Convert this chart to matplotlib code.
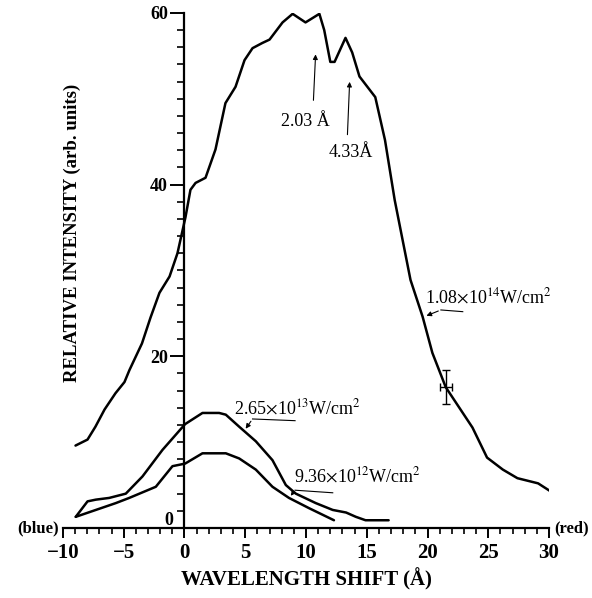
"""Relative intensity vs wavelength shift for three laser intensities."""

import numpy as np
import matplotlib
matplotlib.use("Agg")
import matplotlib.pyplot as plt
from matplotlib.ticker import MultipleLocator, FixedLocator

plt.rcParams["font.family"] = ["Liberation Serif", "DejaVu Serif"]
plt.rcParams["mathtext.fontset"] = "stix"

# 1.08e14 W/cm2 profile
x_high = [-8.97, -7.98, -7.33, -6.58, -5.68, -4.94, -4.53, -3.5, -2.8, -2.06, -1.23,
          -0.58, 0.08, 0.49, 0.91, 1.73, 2.55, 3.37, 4.2, 4.94, 5.6, 6.4, 7.0, 8.07,
          8.9, 9.96, 11.1, 11.5, 12.0, 12.35, 13.25, 13.8, 14.4, 15.7, 16.5, 17.3,
          18.6, 19.6, 20.4, 21.5, 23.7, 24.9, 26.2, 27.4, 29.1, 30.2]
y_high = [9.6, 10.3, 11.8, 13.8, 15.7, 17.0, 18.4, 21.5, 24.5, 27.4, 29.3,
          32.0, 36.2, 39.4, 40.2, 40.8, 44.1, 49.5, 51.4, 54.5, 55.9, 56.5, 56.9, 58.9,
          59.9, 58.9, 59.9, 58.0, 54.3, 54.3, 57.1, 55.4, 52.6, 50.2, 45.2, 38.2,
          28.9, 24.6, 20.4, 16.4, 11.7, 8.2, 6.8, 5.8, 5.2, 4.2]

# 2.65e13 W/cm2 profile
x_mid = [-8.95, -7.98, -7.3, -6.2, -4.83, -3.46, -1.81, 0.05, 1.48, 2.85, 3.4, 4.5,
         5.87, 7.24, 8.34, 9.16, 10.8, 12.2, 13.3, 14.1, 14.9, 16.3, 16.8]
y_mid = [1.3, 3.1, 3.3, 3.5, 4.0, 6.0, 9.1, 12.1, 13.4, 13.4, 13.2, 11.8,
         10.1, 7.9, 5.0, 4.0, 2.9, 2.1, 1.8, 1.3, 0.9, 0.9, 0.9]

# 9.36e12 W/cm2 profile
x_low = [-8.95, -7.3, -5.65, -4.55, -2.36, -0.99, 0.05, 1.48, 3.4, 4.5, 5.87, 7.24,
         8.6, 10.26, 12.3]
y_low = [1.3, 2.1, 2.9, 3.5, 4.8, 7.2, 7.5, 8.7, 8.7, 8.1, 6.8, 4.8,
         3.5, 2.3, 0.9]

err_x, err_y = 21.5, 16.4
err_dx, err_dy = 0.5, 2.0

x_ticks = [-10, -5, 0, 5, 10, 15, 20, 25, 30]
y_ticks = [20, 40, 60]

fig = plt.figure(figsize=(5.92, 5.98), dpi=100)
ax = fig.add_axes([0.1064, 0.1171, 0.821, 0.8612])

lw = 1.8
for xs, ys in [(x_high, y_high), (x_mid, y_mid), (x_low, y_low)]:
    ax.plot(xs, ys, color="black", lw=lw, solid_joinstyle="round",
            solid_capstyle="round")
ax.errorbar(err_x, err_y, xerr=err_dx, yerr=err_dy, color="black",
            lw=1.0, capsize=3, capthick=1.0)

ax.set_xlim(-10, 30)
ax.set_ylim(0, 60)

# axes: y axis sits at x = 0
for s in ["top", "right"]:
    ax.spines[s].set_visible(False)
ax.spines["left"].set_position(("data", 0))
ax.spines["left"].set_linewidth(1.6)
ax.spines["bottom"].set_linewidth(1.6)

ax.xaxis.set_major_locator(FixedLocator(x_ticks))
ax.xaxis.set_minor_locator(MultipleLocator(1))
ax.yaxis.set_major_locator(FixedLocator(y_ticks))
ax.yaxis.set_minor_locator(MultipleLocator(2))
ax.tick_params(axis="x", which="major", direction="out", length=7.5, width=1.4,
               labelsize=15, pad=3)
ax.tick_params(axis="x", which="minor", direction="out", length=4, width=1.2)
ax.tick_params(axis="y", which="major", direction="out", length=10, width=1.4,
               labelsize=13, pad=2)
ax.tick_params(axis="y", which="minor", direction="out", length=5, width=1.2)
for lab in ax.get_xticklabels() + ax.get_yticklabels():
    lab.set_fontweight("bold")
ax.text(-0.9, 0.9, "0", ha="right", va="center", fontsize=13, fontweight="bold")

ax.set_xlabel("WAVELENGTH SHIFT (Å)", fontsize=15, fontweight="bold", labelpad=4)
fig.text(72 / 592, 1 - 233 / 598, "RELATIVE INTENSITY (arb. units)", rotation=90,
         ha="center", va="center", fontsize=13.5, fontweight="bold")

ax.text(-10.35, 0, "(blue)", ha="right", va="center", fontsize=12,
        fontweight="bold", clip_on=False)
ax.text(30.4, 0, "(red)", ha="left", va="center", fontsize=12,
        fontweight="bold", clip_on=False)

# peak markers
arrow = dict(arrowstyle="-|>", color="black", lw=0.8, mutation_scale=7)
ax.annotate("", xy=(10.8, 55.5), xytext=(10.6, 49.5), arrowprops=arrow)
ax.text(9.96, 47.3, "2.03 Å", ha="center", va="center", fontsize=13)
ax.annotate("", xy=(13.6, 52.3), xytext=(13.4, 45.5), arrowprops=arrow)
ax.text(13.7, 43.8, "4.33Å", ha="center", va="center", fontsize=13)

# intensity labels with bent leaders
def leader(pts, label, tx, ty):
    xs = [p[0] for p in pts]
    ys = [p[1] for p in pts]
    ax.plot(xs[:-1], ys[:-1], color="black", lw=0.8)
    ax.annotate("", xy=pts[-1], xytext=pts[-2], arrowprops=arrow)
    ax.text(tx, ty, label, ha="left", va="center", fontsize=13)

leader([(22.9, 25.2), (21.1, 25.4), (19.7, 24.6)],
       r"1.08$\times$10$^{14}$W/cm$^{2}$", 19.8, 26.9)
leader([(9.1, 12.5), (5.6, 12.7), (4.9, 11.3)],
       r"2.65$\times$10$^{13}$W/cm$^{2}$", 4.1, 14.0)
leader([(12.2, 4.1), (9.1, 4.4), (8.6, 3.5)],
       r"9.36$\times$10$^{12}$W/cm$^{2}$", 9.05, 6.1)

fig.savefig("out.png", dpi=100)
